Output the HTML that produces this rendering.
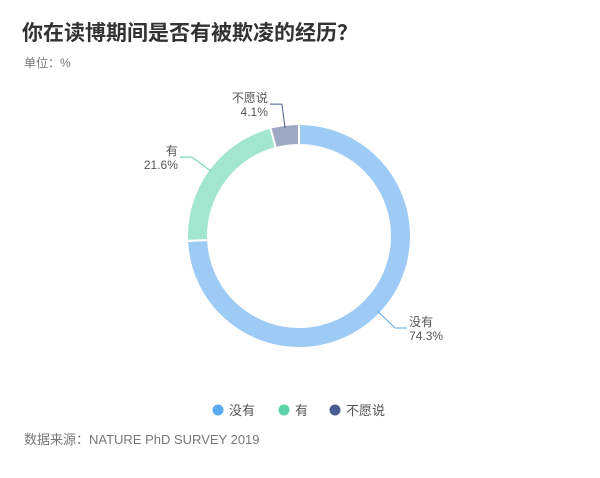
<!DOCTYPE html>
<html><head><meta charset="utf-8"><style>
body{margin:0;background:#fff;width:600px;height:473px;overflow:hidden;font-family:"Liberation Sans","Noto Sans CJK SC",sans-serif}
</style></head><body>
<svg width="600" height="473">
<text x="22" y="40" font-size="21" font-weight="bold" fill="#333">你在读博期间是否有被欺凌的经历？</text>
<text x="24" y="67" font-size="12" fill="#777">单位：%</text>
<g id="slices"></g>
<g id="labels" font-size="12" fill="#555"></g>
<g id="legend" font-size="13" fill="#555"></g>
<text x="24" y="444" font-size="13" fill="#777">数据来源：NATURE PhD SURVEY 2019</text>
</svg>
<script>
const categories=["没有","有","不愿说"];
const values=[74.3,21.6,4.1];
const colors=["#9ecbf5","#a3e6cf","#9fa8c3"];
const legendColors=["#5aabf0","#5fd4a8","#4a5d92"];
const NS="http://www.w3.org/2000/svg";
const cx=299,cy=236,R=112,r=91;
const total=values.reduce((a,b)=>a+b,0);
const pt=(a,rad)=>[cx+rad*Math.sin(a),cy-rad*Math.cos(a)];
let start=0;
const sg=document.getElementById('slices'),lg=document.getElementById('labels');
values.forEach((v,i)=>{
  const end=start+v/total*2*Math.PI;
  const large=end-start>Math.PI?1:0;
  const [x1,y1]=pt(start,R),[x2,y2]=pt(end,R),[x3,y3]=pt(end,r),[x4,y4]=pt(start,r);
  const p=document.createElementNS(NS,'path');
  p.setAttribute('d',`M${x1},${y1}A${R},${R} 0 ${large} 1 ${x2},${y2}L${x3},${y3}A${r},${r} 0 ${large} 0 ${x4},${y4}Z`);
  p.setAttribute('fill',colors[i]);p.setAttribute('stroke','#fff');p.setAttribute('stroke-width','2');
  
  
  sg.appendChild(p);
  const mid=(start+end)/2;
  const [ax,ay]=pt(mid,R-3),[bx,by]=pt(mid,R+21);
  const right=Math.sin(mid)>=0;
  const ex=bx+(right?12:-12);
  const l=document.createElementNS(NS,'polyline');
  l.setAttribute('points',`${ax},${ay} ${bx},${by} ${ex},${by}`);
  l.setAttribute('fill','none');l.setAttribute('stroke',i==2?'#4a5d92':legendColors[i]);l.setAttribute('stroke-width','1');
  
  
  lg.appendChild(l);
  const tx=right?ex+2:ex-2, anchor=right?'start':'end';
  [categories[i],v.toFixed(1)+'%'].forEach((s,k)=>{
    const t=document.createElementNS(NS,'text');
    t.setAttribute('x',tx);t.setAttribute('y',by-2+k*14);t.setAttribute('text-anchor',anchor);
    t.textContent=s;
    
    
    lg.appendChild(t);
  });
  start=end;
});
const leg=document.getElementById('legend');
const lx=[218,284,335];
categories.forEach((c,i)=>{
  const g=document.createElementNS(NS,'g');
  
  
  const ci=document.createElementNS(NS,'circle');
  ci.setAttribute('cx',lx[i]);ci.setAttribute('cy',410);ci.setAttribute('r',5.5);ci.setAttribute('fill',legendColors[i]);
  const t=document.createElementNS(NS,'text');
  t.setAttribute('x',lx[i]+11);t.setAttribute('y',415);t.textContent=c;
  g.appendChild(ci);g.appendChild(t);leg.appendChild(g);
});
</script>
</body></html>
